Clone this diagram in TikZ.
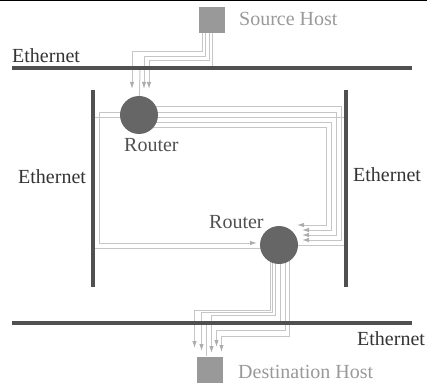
\documentclass[tikz,border=0pt]{standalone}
\usepackage{fontspec}
\setmainfont{Liberation Serif}
\usetikzlibrary{arrows.meta, backgrounds}
\definecolor{mDark}{HTML}{505050}
\definecolor{mRouter}{HTML}{666666}
\definecolor{mHost}{HTML}{999999}
\definecolor{mPath}{HTML}{C6C6C6}
\definecolor{mTip}{HTML}{ADADAD}

\begin{document}
\begin{tikzpicture}[x=1pt, y=-1pt, font=\rmfamily\fontsize{20}{24}\selectfont,
      router/.style={circle, fill=mRouter, minimum size=38pt, inner sep=0pt},
      host/.style={fill=mHost, minimum size=26pt, inner sep=0pt},
      eth/.style={mDark, line width=3.5pt},
      lbl/.style={anchor=base west, inner sep=0pt},
      link/.style={mPath, line width=1pt},
      pkt/.style={link, -{Latex[length=7pt, width=4.5pt, color=mTip]}}]
    \useasboundingbox (0,0) rectangle (427,387);
    \draw[black, line width=1pt] (0,0.5) -- (427,0.5);
    % hosts and routers
    \node[host] (src) at (212,20) {};
    \node[host] (dst) at (209.5,369.5) {};
    \node[router] (r1) at (139,115) {};
    \node[router] (r2) at (279,245) {};
    % ethernet segments
    \coordinate (topW) at (12,68);   \coordinate (topE) at (412,68);
    \coordinate (botW) at (12,323);  \coordinate (botE) at (412,323);
    \coordinate (lftN) at (93,90);   \coordinate (lftS) at (93,287);
    \coordinate (rgtN) at (346,90);  \coordinate (rgtS) at (346,287);
    \draw[eth] (topW) -- (topE);
    \draw[eth] (botW) -- (botE);
    \draw[eth] (lftN) -- (lftS);
    \draw[eth] (rgtN) -- (rgtS);
    % packet paths
    \begin{scope}[on background layer]
      \draw[pkt] (202,33) |- (132,52) -- (132,89);
      \draw[pkt] (205,33) |- (144,57) -- (144,89);
      \draw[pkt] (209,33) |- (149,61) -- (149,89);
      \draw[link] (212,33) -- (212,68);
      \draw[link] (140,68) -- (r1);
      \draw[link] (139,117.5) -- (93,117.5);
      \draw[pkt] (139,113) -| (99,243) -- (257,243);
      \draw[link] (93,248) -- (279,248);
      \draw[pkt] (139,107) -| (341.5,240) -- (302,240);
      \draw[pkt] (139,112.5) -| (336.5,235) -- (302,235);
      \draw[link] (139,117.5) -- (346,117.5);
      \draw[pkt] (139,122.5) -| (331.5,230) -- (302,230);
      \draw[pkt] (139,127.5) -| (326.5,225) -- (297,225);
      \draw[link] (r2) -- (346,245);
      \draw[pkt] (270,245) |- (194.5,310) -- (194.5,348);
      \draw[pkt] (272.5,245) |- (201.5,312.5) -- (201.5,351);
      \draw[pkt] (275,245) |- (211.5,315) -- (211.5,353);
      \draw[link] (280,245) -- (280,323);
      \draw[pkt] (285,245) |- (216.5,330.5) -- (216.5,347);
      \draw[pkt] (289,245) |- (221.5,336.5) -- (221.5,352);
      \draw[link] (206.5,323) -- (dst.north -| 206.5,0);
    \end{scope}
    % labels
    \node[lbl, text=black!80] (ethT) at (12,63) {Ethernet};
    \node[lbl, text=black!80] (ethL) at (18,183) {Ethernet};
    \node[lbl, text=black!80] (ethR) at (353,181) {Ethernet};
    \node[lbl, text=black!80] (ethB) at (357,345) {Ethernet};
    \node[lbl, text=mHost] (srcL) at (239,26) {Source Host};
    \node[lbl, text=mHost] (dstL) at (238,378) {Destination Host};
    \node[lbl, text=mDark] (r1L) at (124,151.5) {Router};
    \node[lbl, text=mDark] (r2L) at (209,228) {Router};
  \end{tikzpicture}
\end{document}
